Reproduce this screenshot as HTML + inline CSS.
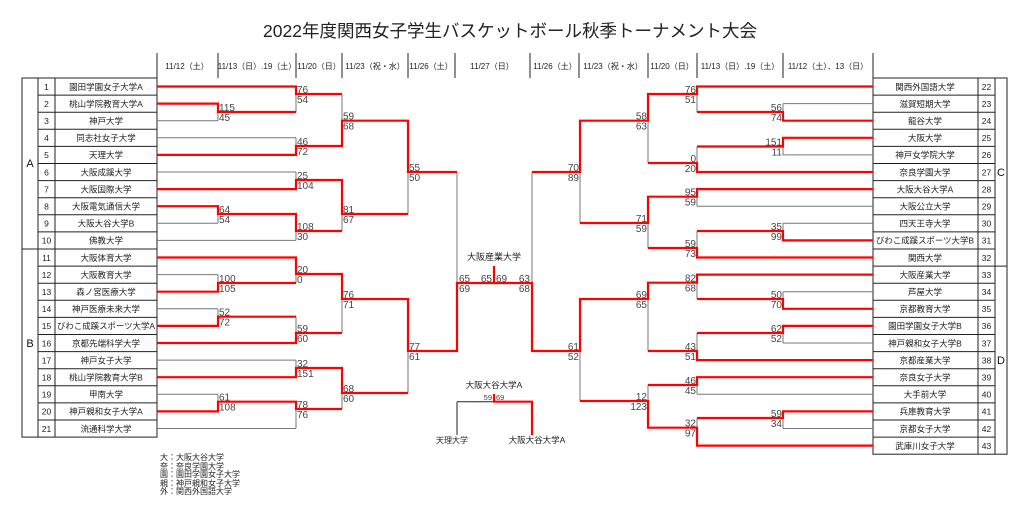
<!DOCTYPE html>
<html><head><meta charset="utf-8"><style>
html,body{margin:0;padding:0;background:#fff;}
svg{display:block;font-family:"Liberation Sans","Noto Sans CJK JP",sans-serif;}
.g{stroke:#777;stroke-width:1;fill:none}
.k{stroke:#222;stroke-width:1;fill:none}
.r{stroke:#f00;stroke-width:2.2;fill:none}
.h{font-size:8px;fill:#222;text-anchor:middle}
.n{font-size:8.5px;fill:#222;text-anchor:middle}
.s{font-size:10px;fill:#444}
.e{text-anchor:end}
</style></head><body>
<svg width="1022" height="516" viewBox="0 0 1022 516">
<text x="510" y="37" font-size="17.5" text-anchor="middle" fill="#222">2022年度関西女子学生バスケットボール秋季トーナメント大会</text>
<!-- header -->
<g class="k"><path d="M157,53V78M218,53V78M296,53V78M342,53V78M408,53V78M455,53V78M530,53V78M579,53V78M648,53V78M697,53V78M783,53V78M873,53V78"/></g>
<text class="h" x="187" y="69">11/12（土）</text>
<text class="h" x="257" y="69">11/13（日）.19（土）</text>
<text class="h" x="319" y="69">11/20（日）</text>
<text class="h" x="375" y="69">11/23（祝・水）</text>
<text class="h" x="431" y="69">11/26（土）</text>
<text class="h" x="492" y="69">11/27（日）</text>
<text class="h" x="555" y="69">11/26（土）</text>
<text class="h" x="613" y="69">11/23（祝・水）</text>
<text class="h" x="672" y="69">11/20（日）</text>
<text class="h" x="740" y="69">11/13（日）.19（土）</text>
<text class="h" x="828" y="69">11/12（土）．13（日）</text>
<!-- left table -->
<g class="k">
<rect x="22" y="78" width="135" height="359.1"/>
<path d="M38,78V437.1M55,78V437.1M22,249H157"/>
<path d="M38,95.1H157M38,112.2H157M38,129.3H157M38,146.4H157M38,163.5H157M38,180.6H157M38,197.7H157M38,214.8H157M38,231.9H157M38,266.1H157M38,283.2H157M38,300.3H157M38,317.4H157M38,334.5H157M38,351.6H157M38,368.7H157M38,385.8H157M38,402.9H157M38,420H157"/>
</g>
<text x="30" y="167" font-size="11" text-anchor="middle" fill="#111">A</text>
<text x="30" y="347" font-size="11" text-anchor="middle" fill="#111">B</text>
<g class="n">
<text x="46.5" y="90">1</text><text x="106" y="90">園田学園女子大学A</text>
<text x="46.5" y="107">2</text><text x="106" y="107">桃山学院教育大学A</text>
<text x="46.5" y="124">3</text><text x="106" y="124">神戸大学</text>
<text x="46.5" y="141">4</text><text x="106" y="141">同志社女子大学</text>
<text x="46.5" y="158">5</text><text x="106" y="158">天理大学</text>
<text x="46.5" y="175.5">6</text><text x="106" y="175.5">大阪成蹊大学</text>
<text x="46.5" y="192.5">7</text><text x="106" y="192.5">大阪国際大学</text>
<text x="46.5" y="209.5">8</text><text x="106" y="209.5">大阪電気通信大学</text>
<text x="46.5" y="226.5">9</text><text x="106" y="226.5">大阪大谷大学B</text>
<text x="46.5" y="243.5">10</text><text x="106" y="243.5">佛教大学</text>
<text x="46.5" y="261">11</text><text x="106" y="261">大阪体育大学</text>
<text x="46.5" y="278">12</text><text x="106" y="278">大阪教育大学</text>
<text x="46.5" y="295">13</text><text x="106" y="295">森ノ宮医療大学</text>
<text x="46.5" y="312">14</text><text x="106" y="312">神戸医療未来大学</text>
<text x="46.5" y="329">15</text><text x="106" y="329" textLength="98" lengthAdjust="spacingAndGlyphs">びわこ成蹊スポーツ大学A</text>
<text x="46.5" y="346.5">16</text><text x="106" y="346.5">京都先端科学大学</text>
<text x="46.5" y="363.5">17</text><text x="106" y="363.5">神戸女子大学</text>
<text x="46.5" y="380.5">18</text><text x="106" y="380.5">桃山学院教育大学B</text>
<text x="46.5" y="397.5">19</text><text x="106" y="397.5">甲南大学</text>
<text x="46.5" y="414.5">20</text><text x="106" y="414.5">神戸親和女子大学A</text>
<text x="46.5" y="432">21</text><text x="106" y="432">流通科学大学</text>
</g>
<!-- right table -->
<g class="k">
<rect x="873" y="78" width="134" height="376.2"/>
<path d="M978,78V454.2M995,78V454.2M873,266.1H1007"/>
<path d="M873,95.1H995M873,112.2H995M873,129.3H995M873,146.4H995M873,163.5H995M873,180.6H995M873,197.7H995M873,214.8H995M873,231.9H995M873,249H995M873,283.2H995M873,300.3H995M873,317.4H995M873,334.5H995M873,351.6H995M873,368.7H995M873,385.8H995M873,402.9H995M873,420H995M873,437.1H995"/>
</g>
<text x="1001" y="176" font-size="11" text-anchor="middle" fill="#111">C</text>
<text x="1001" y="364" font-size="11" text-anchor="middle" fill="#111">D</text>
<g class="n">
<text x="925" y="90">関西外国語大学</text><text x="986.5" y="90">22</text>
<text x="925" y="107">滋賀短期大学</text><text x="986.5" y="107">23</text>
<text x="925" y="124">龍谷大学</text><text x="986.5" y="124">24</text>
<text x="925" y="141">大阪大学</text><text x="986.5" y="141">25</text>
<text x="925" y="158">神戸女学院大学</text><text x="986.5" y="158">26</text>
<text x="925" y="175.5">奈良学園大学</text><text x="986.5" y="175.5">27</text>
<text x="925" y="192.5">大阪大谷大学A</text><text x="986.5" y="192.5">28</text>
<text x="925" y="209.5">大阪公立大学</text><text x="986.5" y="209.5">29</text>
<text x="925" y="226.5">四天王寺大学</text><text x="986.5" y="226.5">30</text>
<text x="925" y="243.5" textLength="98" lengthAdjust="spacingAndGlyphs">びわこ成蹊スポーツ大学B</text><text x="986.5" y="243.5">31</text>
<text x="925" y="261">関西大学</text><text x="986.5" y="261">32</text>
<text x="925" y="278">大阪産業大学</text><text x="986.5" y="278">33</text>
<text x="925" y="295">芦屋大学</text><text x="986.5" y="295">34</text>
<text x="925" y="312">京都教育大学</text><text x="986.5" y="312">35</text>
<text x="925" y="329">園田学園女子大学B</text><text x="986.5" y="329">36</text>
<text x="925" y="346.5">神戸親和女子大学B</text><text x="986.5" y="346.5">37</text>
<text x="925" y="363.5">京都産業大学</text><text x="986.5" y="363.5">38</text>
<text x="925" y="380.5">奈良女子大学</text><text x="986.5" y="380.5">39</text>
<text x="925" y="397.5">大手前大学</text><text x="986.5" y="397.5">40</text>
<text x="925" y="414.5">兵庫教育大学</text><text x="986.5" y="414.5">41</text>
<text x="925" y="432">京都女子大学</text><text x="986.5" y="432">42</text>
<text x="925" y="449">武庫川女子大学</text><text x="986.5" y="449">43</text>
</g>
<!-- gray lines left -->
<g class="g">
<path d="M157,120.7H218M157,137.8H296M157,172H296M157,223.3H218M157,240.4H296M157,274.6H218M157,308.8H218M157,360.1H296M157,394.3H218M157,428.5H296"/>
<path d="M218,103.6V120.7M296,86.5V112M296,137.8V154.9M342,94V146M296,172V189.1M218,206.2V223.3M296,214V240.4M342,180V231M408,120.7V214"/>
<path d="M218,274.6V291.7M296,257.5V283M218,308.8V325.9M296,316.7V343M342,274V333M296,360.1V377.2M218,394.3V411.4M296,401.7V428.5M342,368V409M408,299V393"/>
<path d="M457,172V351"/>
<!-- right -->
<path d="M873,103.6H783M873,154.9H783M873,206.2H697M873,223.3H783M873,291.7H783M873,343H783M873,394.3H697M873,428.5H783"/>
<path d="M783,103.6V120.7M697,86.5V112M783,137.8V154.9M697,146.5V172M648,94V163M697,189.1V206.2M783,223.3V240.4M697,231V257.5M648,196.7V248M580,120.7V223"/>
<path d="M783,291.7V308.8M697,274.6V299M783,325.9V343M697,333V360.1M648,282.7V351M697,377.2V394.3M783,411.4V428.5M697,418V445.6M648,385V427.7M580,299V401"/>
<path d="M532,172V351"/>
</g>
<path class="k" d="M457,283H494M457,401.7H494M457,401.7V435"/>
<!-- red left -->
<g class="r">
<path d="M157,86.5H296V94H342M157,103.6H218V112H296M157,154.9H296V146H342V120.7H408V172H457M157,189.1H296V180H342V214H408M157,206.2H218V214H296V231H342"/>
<path d="M157,257.5H296V274H342V299H408V351H457V283H494M157,291.7H218V283H296M157,325.9H218V316.7H296M157,343H296V333H342M157,377.2H296V368H342V393H408M157,411.4H218V401.7H296V409H342"/>
<path d="M494,266V283"/>
<!-- red right -->
<path d="M873,86.5H697V94H648V120.7H580V172H532M873,120.7H783V112H697M873,137.8H783V146.5H697M873,172H697V163H648M873,189.1H697V196.7H648V223H580M873,240.4H783V231H697M873,257.5H697V248H648"/>
<path d="M873,274.6H697V282.7H648V299H580V351H532V283H494M873,308.8H783V299H697M873,325.9H783V333H697M873,360.1H697V351H648M873,377.2H697V385H648M873,411.4H783V418H697M873,445.6H697V427.7H648V401H580"/>
<path d="M494,394V401.7H532V435"/>
</g>
<!-- scores left -->
<g class="s">
<text x="219" y="111">115</text><text x="219" y="121">45</text>
<text x="297" y="93">76</text><text x="297" y="103">54</text>
<text x="297" y="145">46</text><text x="297" y="155">72</text>
<text x="343" y="119.5">59</text><text x="343" y="129.5">68</text>
<text x="297" y="179">25</text><text x="297" y="189">104</text>
<text x="219" y="213">64</text><text x="219" y="223">54</text>
<text x="297" y="230">108</text><text x="297" y="240">30</text>
<text x="343" y="213">81</text><text x="343" y="223">67</text>
<text x="409" y="171">55</text><text x="409" y="181">50</text>
<text x="219" y="282">100</text><text x="219" y="292">105</text>
<text x="297" y="273">20</text><text x="297" y="283">0</text>
<text x="219" y="315.5">52</text><text x="219" y="325.5">72</text>
<text x="297" y="332">59</text><text x="297" y="342">60</text>
<text x="343" y="298">76</text><text x="343" y="308">71</text>
<text x="297" y="367">32</text><text x="297" y="377">151</text>
<text x="219" y="400.5">61</text><text x="219" y="410.5">108</text>
<text x="297" y="408">78</text><text x="297" y="418">76</text>
<text x="343" y="392">68</text><text x="343" y="402">60</text>
<text x="409" y="350">77</text><text x="409" y="360">61</text>
<text x="459" y="282">65</text><text x="459" y="292">69</text>
<text x="492" y="282" class="e">65</text><text x="496" y="282">69</text>
<text x="530" y="282" class="e">63</text><text x="530" y="292" class="e">68</text>
</g>
<!-- scores right -->
<g class="s e">
<text x="782" y="111">56</text><text x="782" y="121">74</text>
<text x="696" y="93">76</text><text x="696" y="103">51</text>
<text x="782" y="145.5">151</text><text x="782" y="155.5">11</text>
<text x="696" y="162">0</text><text x="696" y="172">20</text>
<text x="647" y="119.5">58</text><text x="647" y="129.5">63</text>
<text x="696" y="195.5">95</text><text x="696" y="205.5">59</text>
<text x="782" y="230">35</text><text x="782" y="240">99</text>
<text x="696" y="247">59</text><text x="696" y="257">73</text>
<text x="647" y="222">71</text><text x="647" y="232">59</text>
<text x="579" y="171">70</text><text x="579" y="181">89</text>
<text x="782" y="298">50</text><text x="782" y="308">70</text>
<text x="696" y="281.5">82</text><text x="696" y="291.5">68</text>
<text x="782" y="332">62</text><text x="782" y="342">52</text>
<text x="696" y="350">43</text><text x="696" y="360">51</text>
<text x="647" y="298">69</text><text x="647" y="308">65</text>
<text x="696" y="384">46</text><text x="696" y="394">45</text>
<text x="782" y="417">59</text><text x="782" y="427">34</text>
<text x="696" y="426.5">32</text><text x="696" y="436.5">97</text>
<text x="647" y="400">12</text><text x="647" y="410">123</text>
<text x="579" y="350">61</text><text x="579" y="360">52</text>
</g>
<!-- center labels -->
<text x="494" y="260" font-size="9" text-anchor="middle" fill="#222">大阪産業大学</text>
<text x="494" y="388" font-size="8.5" text-anchor="middle" fill="#222">大阪大谷大学A</text>
<text x="492" y="400" font-size="7.5" text-anchor="end" fill="#444">59</text>
<text x="496" y="400" font-size="7.5" fill="#444">69</text>
<text x="452" y="443" font-size="8" text-anchor="middle" fill="#222">天理大学</text>
<text x="537" y="443" font-size="8.5" text-anchor="middle" fill="#222">大阪大谷大学A</text>
<!-- legend -->
<g font-size="8" fill="#222">
<text x="160" y="460">大：大阪大谷大学</text>
<text x="160" y="469">奈：奈良学園大学</text>
<text x="160" y="477">園：園田学園女子大学</text>
<text x="160" y="486">親：神戸親和女子大学</text>
<text x="160" y="494">外：関西外国語大学</text>
</g>
</svg>
</body></html>
